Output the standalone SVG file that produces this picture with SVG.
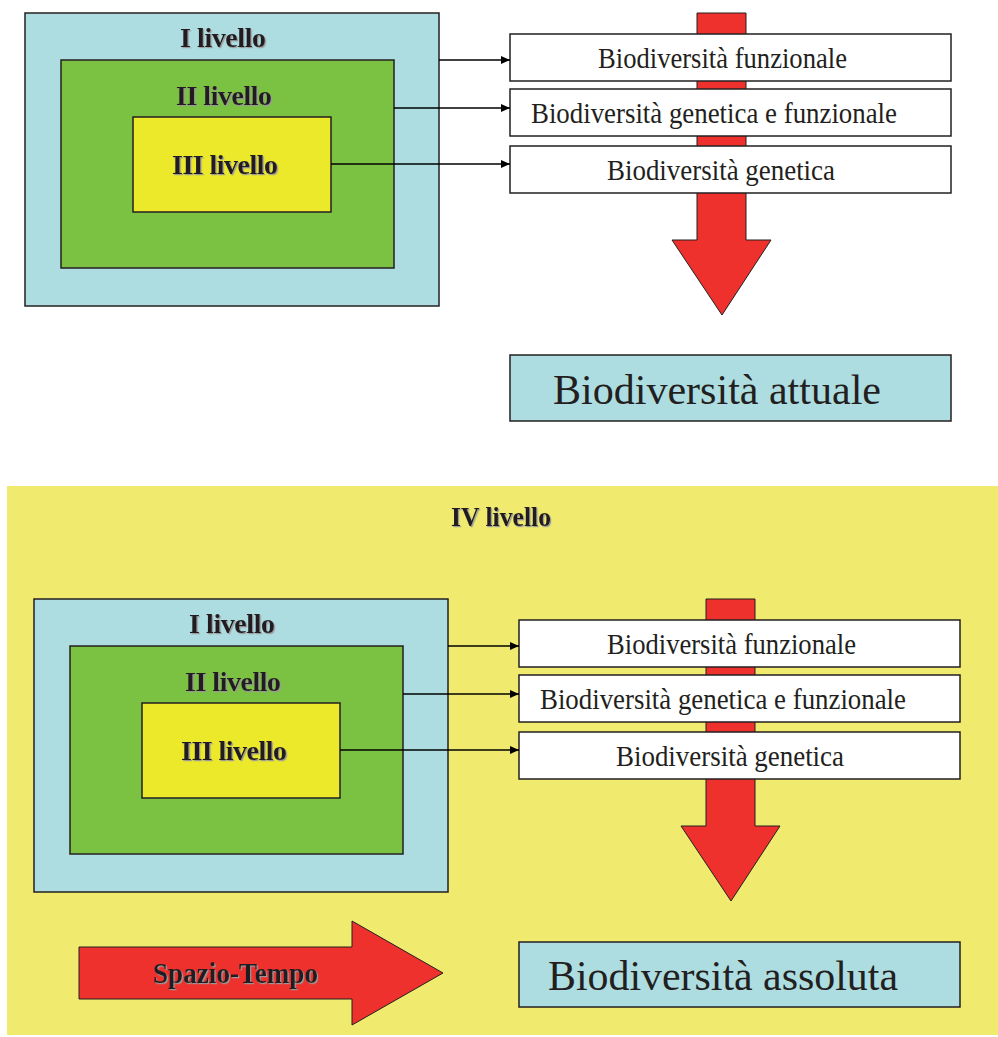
<svg xmlns="http://www.w3.org/2000/svg" width="998" height="1037" viewBox="0 0 998 1037">
<style>
.l1{fill:#ADDDE1;stroke:#231F20;stroke-width:1.5}
.l2{fill:#7BC142;stroke:#231F20;stroke-width:1.5}
.l3{fill:#ECE82A;stroke:#231F20;stroke-width:1.5}
.box{fill:#FFFFFF;stroke:#231F20;stroke-width:1.5}
.big{fill:#ADDDE1;stroke:#231F20;stroke-width:1.5}
.red{fill:#EE312C;stroke:#231F20;stroke-width:1}
.lbl{font-family:"Liberation Serif","Times New Roman",serif;font-weight:bold;font-size:28px;fill:#231F20;text-anchor:middle;filter:url(#sh)}
.bt{font-family:"Liberation Serif","Times New Roman",serif;font-size:29px;fill:#231F20}
.bg{font-family:"Liberation Serif","Times New Roman",serif;font-size:42px;fill:#231F20}
.conn{stroke:#000;stroke-width:1.6;fill:none;marker-end:url(#ah)}
</style>
<defs>
<filter id="sh" x="-10%" y="-20%" width="120%" height="150%">
<feDropShadow dx="1.2" dy="1.2" stdDeviation="0.3" flood-color="#9A9A9A" flood-opacity="1"/>
</filter>
<marker id="ah" markerUnits="userSpaceOnUse" markerWidth="10" markerHeight="8" refX="9" refY="4" orient="auto">
<path d="M0,0 L9,4 L0,8 Z" fill="#000"/>
</marker>
</defs>

<rect id="bg-iv" x="7" y="486" width="991" height="549" fill="#F0EB6E"/>

<g id="top-red-arrow"><polygon class="red" points="697,13 746,13 746,240 771,240 722,315 672,240 697,240"/></g>
<g id="top-l1"><rect class="l1" x="25" y="13" width="414" height="293"/><text class="lbl" x="223" y="47" textLength="86">I livello</text></g>
<g id="top-l2"><rect class="l2" x="61" y="60" width="333" height="208"/><text class="lbl" x="224" y="105" textLength="96">II livello</text></g>
<g id="top-l3"><rect class="l3" x="133" y="117" width="198" height="95"/><text class="lbl" x="225" y="174" textLength="106">III livello</text></g>
<g id="top-b1"><rect class="box" x="510" y="34" width="441" height="47"/><text class="bt" x="598" y="68" textLength="249" lengthAdjust="spacingAndGlyphs">Biodiversità funzionale</text></g>
<g id="top-b2"><rect class="box" x="510" y="89" width="441" height="47"/><text class="bt" x="531" y="123" textLength="366" lengthAdjust="spacingAndGlyphs">Biodiversità genetica e funzionale</text></g>
<g id="top-b3"><rect class="box" x="510" y="146" width="441" height="47"/><text class="bt" x="607" y="180" textLength="228" lengthAdjust="spacingAndGlyphs">Biodiversità genetica</text></g>
<g id="attuale"><rect class="big" x="510" y="355" width="441" height="66"/><text class="bg" x="553" y="404" textLength="328" lengthAdjust="spacingAndGlyphs">Biodiversità attuale</text></g>

<g id="iv-label"><text class="lbl" x="501" y="526" textLength="100" lengthAdjust="spacingAndGlyphs">IV livello</text></g>
<g id="bot-red-arrow"><polygon class="red" points="706,599 755,599 755,826 780,826 731,901 681,826 706,826"/></g>
<g id="bot-l1"><rect class="l1" x="34" y="599" width="414" height="293"/><text class="lbl" x="232" y="633" textLength="86">I livello</text></g>
<g id="bot-l2"><rect class="l2" x="70" y="646" width="333" height="208"/><text class="lbl" x="233" y="691" textLength="96">II livello</text></g>
<g id="bot-l3"><rect class="l3" x="142" y="703" width="198" height="95"/><text class="lbl" x="234" y="760" textLength="106">III livello</text></g>
<g id="bot-b1"><rect class="box" x="519" y="620" width="441" height="47"/><text class="bt" x="607" y="654" textLength="249" lengthAdjust="spacingAndGlyphs">Biodiversità funzionale</text></g>
<g id="bot-b2"><rect class="box" x="519" y="675" width="441" height="47"/><text class="bt" x="540" y="709" textLength="366" lengthAdjust="spacingAndGlyphs">Biodiversità genetica e funzionale</text></g>
<g id="bot-b3"><rect class="box" x="519" y="732" width="441" height="47"/><text class="bt" x="616" y="766" textLength="228" lengthAdjust="spacingAndGlyphs">Biodiversità genetica</text></g>
<g id="spazio-tempo"><polygon class="red" points="79,947 352,947 352,921 443,973 352,1025 352,999 79,999"/><text x="153" y="983" font-family="'Liberation Serif','Times New Roman',serif" font-weight="bold" font-size="29" fill="#231F20" textLength="165" lengthAdjust="spacingAndGlyphs" filter="url(#sh)">Spazio-Tempo</text></g>
<g id="assoluta"><rect class="big" x="519" y="942" width="441" height="65"/><text class="bg" x="548" y="990" textLength="350" lengthAdjust="spacingAndGlyphs">Biodiversità assoluta</text></g>

<g id="connectors">
<line class="conn" x1="439" y1="60" x2="510" y2="60"/>
<line class="conn" x1="394" y1="108" x2="510" y2="108"/>
<line class="conn" x1="331" y1="164" x2="510" y2="164"/>
<line class="conn" x1="448" y1="646" x2="519" y2="646"/>
<line class="conn" x1="403" y1="694" x2="519" y2="694"/>
<line class="conn" x1="340" y1="750" x2="519" y2="750"/>
</g>
</svg>
